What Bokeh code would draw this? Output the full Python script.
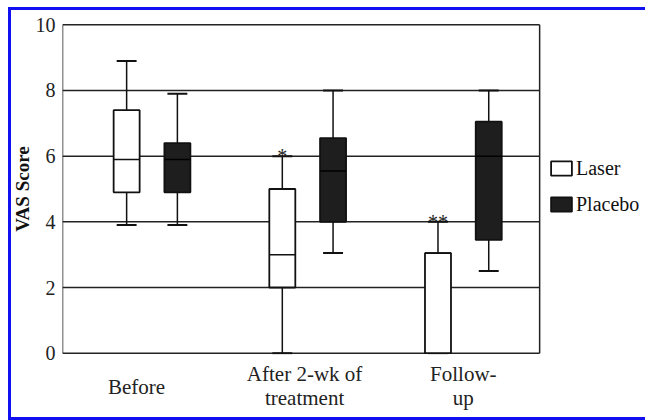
from bokeh.plotting import figure
from bokeh.models import Range1d, FixedTicker, Legend, LegendItem, ColumnDataSource, LinearAxis
from bokeh.embed import file_html
from bokeh.resources import INLINE
from bokeh.core.properties import value

# ---------------- data ----------------
groups = ["Before", "After 2-wk of\ntreatment", "Follow-\nup"]
laser_low = [3.9, 0.0, 0.0]
laser_q1 = [4.9, 2.0, 0.0]
laser_med = [5.9, 3.0, 3.05]
laser_q3 = [7.4, 5.0, 3.05]
laser_high = [8.9, 6.0, 4.0]
placebo_low = [3.9, 3.05, 2.5]
placebo_q1 = [4.9, 4.0, 3.45]
placebo_med = [5.9, 5.55, 6.0]
placebo_q3 = [6.4, 6.55, 7.05]
placebo_high = [7.9, 8.0, 8.0]
significance = ["", "*", "**"]
y_ticks = [0, 2, 4, 6, 8, 10]
series_names = ["Laser", "Placebo"]

FONT = "Liberation Serif"
LINE = "#222222"
BLUE = "#1010f0"
pos = [i + 1 for i in range(len(groups))]
label_shift = [-0.1, -0.02, 0.0]   # small layout nudge of the category labels
label_pos = [pos[i] + label_shift[i] for i in range(len(pos))]

# plot box (inside the frame; the frame extends to the right to hold the legend)
X_START, X_BOX_END, X_END = 0.425, 3.49, 4.17
Y_START, Y_END = -0.04, 10.04

p = figure(width=637, height=413, output_backend="svg", toolbar_location=None,
           x_range=Range1d(X_START, X_END), y_range=Range1d(Y_START, Y_END),
           min_border_left=53, min_border_right=0, min_border_top=16, min_border_bottom=66)
p.styles = {"margin-left": "8px", "margin-top": "7px",
            "box-shadow": f"inset 3px 3px 0 0 {BLUE}, inset 0 -3px 0 0 {BLUE}"}
p.outline_line_color = None
p.background_fill_color = "white"
p.border_fill_alpha = 0
p.grid.visible = False

p.yaxis.ticker = FixedTicker(ticks=y_ticks)
p.yaxis.axis_line_color = None
p.yaxis.major_tick_out = 0
p.yaxis.major_tick_in = 0
p.yaxis.minor_tick_out = 0
p.yaxis.minor_tick_in = 0
p.yaxis.major_label_text_font = FONT
p.yaxis.major_label_text_font_size = "20px"
p.yaxis.major_label_text_color = LINE
p.yaxis.major_label_standoff = 7
p.yaxis.axis_label = "VAS Score"
p.yaxis.axis_label_text_font = FONT
p.yaxis.axis_label_text_font_style = "bold"
p.yaxis.axis_label_text_font_size = "19px"
p.yaxis.axis_label_text_line_height = 1.0
p.yaxis.axis_label_text_color = "#111111"
p.yaxis.axis_label_standoff = 0


def style_xaxis(ax, standoff):
    ax.axis_line_color = None
    ax.major_tick_out = 0
    ax.major_tick_in = 0
    ax.minor_tick_out = 0
    ax.minor_tick_in = 0
    ax.major_label_text_font = FONT
    ax.major_label_text_font_size = "21px"
    ax.major_label_text_color = LINE
    ax.major_label_text_line_height = 1.04
    ax.major_label_standoff = standoff


# two-line category labels on the main x axis, the single-line one on a second axis
xa = p.xaxis[0]
xa.ticker = FixedTicker(ticks=label_pos[1:])
xa.major_label_overrides = {label_pos[i]: groups[i] for i in range(1, len(groups))}
style_xaxis(xa, 7)

xb = LinearAxis(ticker=FixedTicker(ticks=label_pos[:1]),
                major_label_overrides={label_pos[0]: groups[0]})
style_xaxis(xb, -39)
p.add_layout(xb, "below")

# plot box and horizontal grid lines
grid_src = ColumnDataSource(dict(y=y_ticks, x0=[X_START] * len(y_ticks), x1=[X_BOX_END] * len(y_ticks)))
p.segment(x0="x0", y0="y", x1="x1", y1="y", source=grid_src, line_color=LINE, line_width=1.5)
side_src = ColumnDataSource(dict(x=[X_START, X_BOX_END], y0=[y_ticks[0]] * 2, y1=[y_ticks[-1]] * 2))
p.segment(x0="x", y0="y0", x1="x", y1="y1", source=side_src, line_color=LINE, line_width=1.5)

BOX_W = 0.167
CAP_W = 0.128
OFFSET = 0.163


def draw(shift, low, q1, med, q3, high, fill, med_color):
    xs = [x + shift for x in pos]
    src = ColumnDataSource(dict(x=xs, low=low, q1=q1, med=med, q3=q3, high=high,
                                cl=[x - CAP_W / 2 for x in xs], cr=[x + CAP_W / 2 for x in xs],
                                bl=[x - BOX_W / 2 for x in xs], br=[x + BOX_W / 2 for x in xs]))
    p.segment(x0="x", y0="q3", x1="x", y1="high", source=src, line_color="#111111", line_width=1.5)
    p.segment(x0="x", y0="low", x1="x", y1="q1", source=src, line_color="#111111", line_width=1.5)
    p.segment(x0="cl", y0="high", x1="cr", y1="high", source=src, line_color="#111111", line_width=2)
    p.segment(x0="cl", y0="low", x1="cr", y1="low", source=src, line_color="#111111", line_width=2)
    r = p.vbar(x="x", width=BOX_W, bottom="q1", top="q3", source=src,
               fill_color=fill, line_color="#111111", line_width=1.8)
    p.segment(x0="bl", y0="med", x1="br", y1="med", source=src, line_color=med_color, line_width=1.5)
    return r, xs


r_laser, lx = draw(-OFFSET, laser_low, laser_q1, laser_med, laser_q3, laser_high, "white", "#111111")
r_plac, px = draw(OFFSET, placebo_low, placebo_q1, placebo_med, placebo_q3, placebo_high, "#1e1e1e", "#000000")

star_src = ColumnDataSource(dict(x=lx, y=laser_high, t=significance))
p.text(x="x", y="y", text="t", source=star_src, text_font=value(FONT), text_font_size="20px",
       text_align="center", text_baseline="alphabetic", text_color=LINE)

legend = Legend(items=[LegendItem(label=series_names[0], renderers=[r_laser]),
                       LegendItem(label=series_names[1], renderers=[r_plac])],
                location=(486, 138), orientation="vertical")
legend.glyph_width = 26
legend.glyph_height = 18
legend.label_height = 24
legend.label_text_font = FONT
legend.label_text_font_size = "20px"
legend.label_text_color = "#111111"
legend.label_standoff = 2
legend.spacing = 12
legend.padding = 0
legend.margin = 0
legend.border_line_color = None
legend.background_fill_alpha = 0
p.add_layout(legend, "center")

open("out.html", "w").write(file_html(p, INLINE))
